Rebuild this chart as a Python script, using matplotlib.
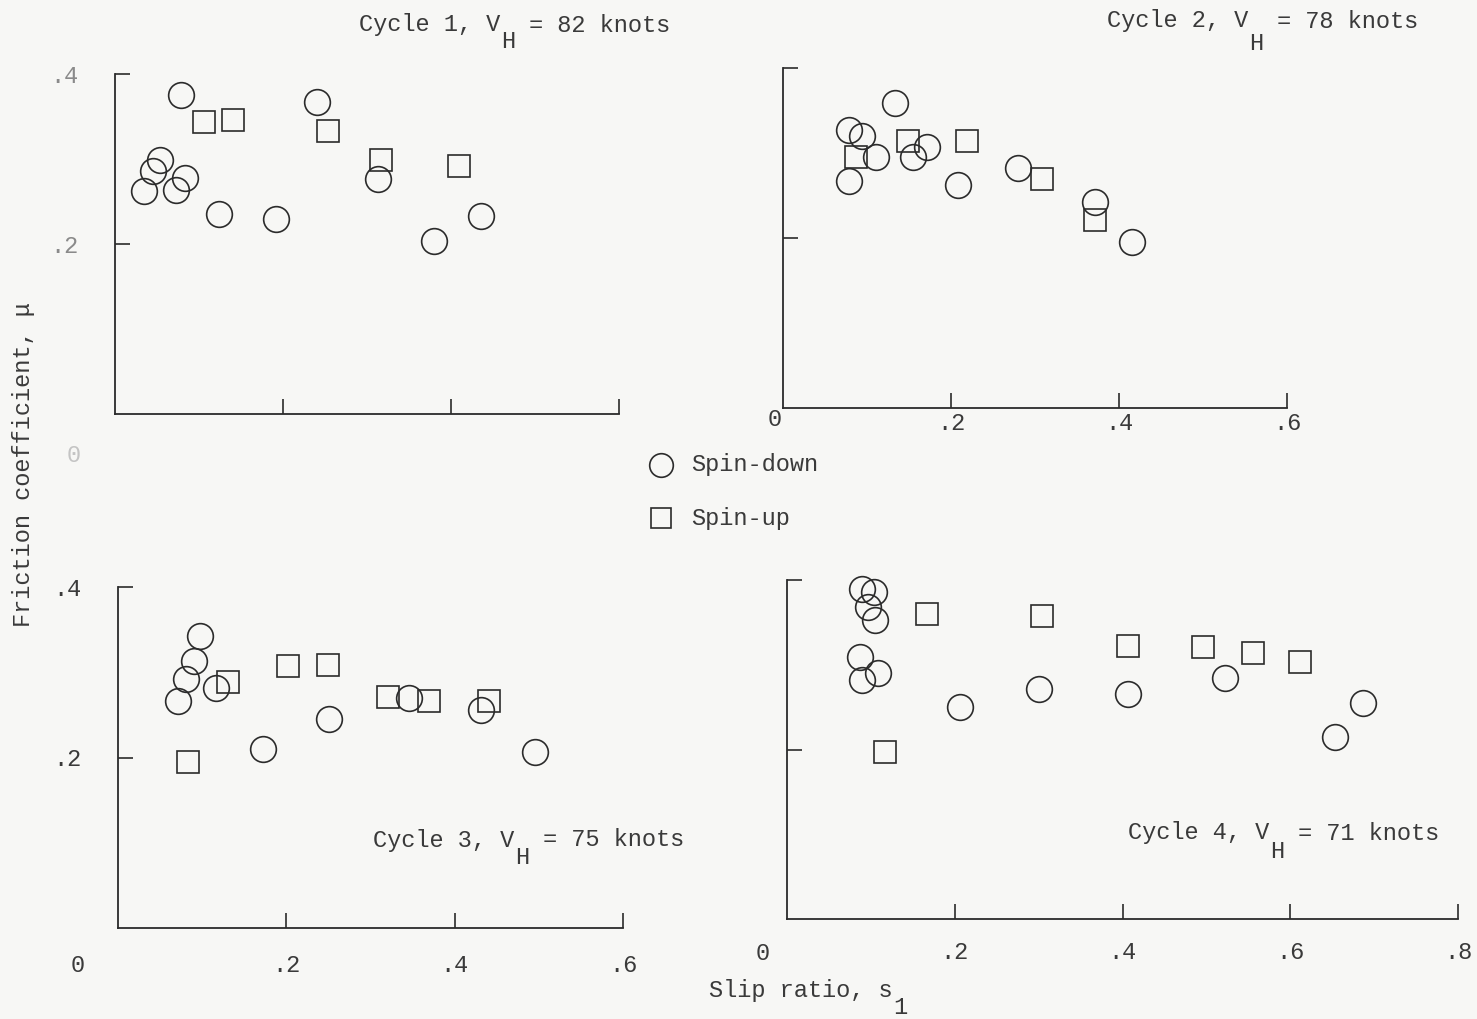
import matplotlib
matplotlib.use("Agg")
import matplotlib.pyplot as plt

FONT = "Liberation Mono"
INK = "#2b2b2b"
TXT = "#3a3a3a"
BG = "#f7f7f5"
FS = 17
CHAR = 0.6 * FS * 100 / 72  # advance width of one monospaced character, px

# Cycle 1, V_H = 82 knots
c1_down_s = [0.078, 0.054, 0.045, 0.034, 0.083, 0.073, 0.124, 0.192, 0.240, 0.313, 0.380, 0.436]
c1_down_mu = [0.375, 0.299, 0.286, 0.262, 0.278, 0.264, 0.235, 0.229, 0.367, 0.277, 0.203, 0.233]
c1_up_s = [0.106, 0.140, 0.254, 0.317, 0.409]
c1_up_mu = [0.343, 0.346, 0.333, 0.299, 0.292]

# Cycle 2, V_H = 78 knots
c2_down_s = [0.133, 0.079, 0.094, 0.111, 0.079, 0.155, 0.171, 0.208, 0.280, 0.371, 0.415]
c2_down_mu = [0.359, 0.327, 0.320, 0.295, 0.267, 0.295, 0.307, 0.262, 0.282, 0.242, 0.195]
c2_up_s = [0.087, 0.149, 0.219, 0.308, 0.371]
c2_up_mu = [0.295, 0.314, 0.314, 0.269, 0.221]

# Cycle 3, V_H = 75 knots
c3_down_s = [0.097, 0.090, 0.081, 0.071, 0.117, 0.172, 0.251, 0.346, 0.431, 0.496]
c3_down_mu = [0.343, 0.313, 0.292, 0.266, 0.282, 0.210, 0.245, 0.270, 0.256, 0.206]
c3_up_s = [0.083, 0.131, 0.202, 0.249, 0.321, 0.369, 0.441]
c3_up_mu = [0.195, 0.289, 0.307, 0.309, 0.271, 0.266, 0.266]

# Cycle 4, V_H = 71 knots
c4_down_s = [0.089, 0.104, 0.097, 0.105, 0.087, 0.090, 0.109, 0.206, 0.300, 0.406, 0.522, 0.653, 0.687]
c4_down_mu = [0.389, 0.386, 0.368, 0.353, 0.309, 0.282, 0.290, 0.250, 0.271, 0.265, 0.284, 0.215, 0.255]
c4_up_s = [0.117, 0.167, 0.304, 0.407, 0.496, 0.556, 0.612]
c4_up_mu = [0.197, 0.360, 0.358, 0.322, 0.321, 0.314, 0.303]

cycle_names = ["Cycle 1, V", "Cycle 2, V", "Cycle 3, V", "Cycle 4, V"]
cycle_speeds = ["= 82 knots", "= 78 knots", "= 75 knots", "= 71 knots"]
x_tick_vals = [[0.2, 0.4, 0.6], [0.2, 0.4, 0.6], [0.2, 0.4, 0.6], [0.2, 0.4, 0.6, 0.8]]
x_tick_text = [[".2", ".4", ".6"], [".2", ".4", ".6"], [".2", ".4", ".6"], [".2", ".4", ".6", ".8"]]
y_tick_vals = [0.2, 0.4]
y_tick_text = [".2", ".4"]

W, H = 1477, 1019
fig = plt.figure(figsize=(W / 100, H / 100), dpi=100, facecolor=BG)


def px_axes(x0, x1, y0, y1):
    # axes rectangle from pixel edges (origin top-left)
    return fig.add_axes([x0 / W, 1 - y0 / H, (x1 - x0) / W, (y0 - y1) / H])


def ftext(x, y, s, **kw):
    kw.setdefault("fontsize", FS)
    kw.setdefault("color", TXT)
    kw.setdefault("family", FONT)
    kw.setdefault("va", "center")
    fig.text(x / W, 1 - y / H, s, **kw)


panels = [
    dict(rect=(115, 619, 414, 74), xmax=0.6, data=(c1_down_s, c1_down_mu, c1_up_s, c1_up_mu),
         xlabels=False, ylabels=True, ycol="#8a8a8a"),
    dict(rect=(783, 1287, 408, 68), xmax=0.6, data=(c2_down_s, c2_down_mu, c2_up_s, c2_up_mu),
         xlabels=True, ylabels=False, xpad=3),
    dict(rect=(118, 623, 928, 587), xmax=0.6, data=(c3_down_s, c3_down_mu, c3_up_s, c3_up_mu),
         xlabels=True, ylabels=True, xpad=19, ycol=TXT),
    dict(rect=(787, 1458, 919, 580), xmax=0.8, data=(c4_down_s, c4_down_mu, c4_up_s, c4_up_mu),
         xlabels=True, ylabels=False, xpad=16),
]

for i, p in enumerate(panels):
    ax = px_axes(*p["rect"])
    ax.set_facecolor("none")
    ax.set_xlim(0, p["xmax"])
    ax.set_ylim(0, 0.4)
    for side in ("top", "right"):
        ax.spines[side].set_visible(False)
    for side in ("left", "bottom"):
        ax.spines[side].set_color(INK)
        ax.spines[side].set_linewidth(1.3)

    ds, dm, us, um = p["data"]
    ax.plot(ds, dm, "o", ms=18.5, mfc="none", mec=INK, mew=1.2, clip_on=False)
    ax.plot(us, um, "s", ms=16, mfc="none", mec=INK, mew=1.2, clip_on=False)

    ax.set_xticks(x_tick_vals[i])
    ax.set_yticks(y_tick_vals)
    ax.tick_params(direction="in", length=11, width=1.2, color=INK)
    if p["xlabels"]:
        ax.set_xticklabels(x_tick_text[i], family=FONT, fontsize=FS, color=TXT)
        ax.tick_params(axis="x", pad=p["xpad"])
    else:
        ax.set_xticklabels([])
    if p["ylabels"]:
        ax.set_yticklabels(y_tick_text, family=FONT, fontsize=FS, color=p["ycol"])
        ax.tick_params(axis="y", pad=26)
    else:
        ax.set_yticklabels([])

# origin labels
ftext(74, 455, "0", ha="center", color="#c4c4c4")
ftext(775, 420, "0", ha="center")
ftext(78, 965, "0", ha="center")
ftext(763, 953, "0", ha="center")

# panel titles, with the subscript H typed one line lower
title_pos = [(359, 25, 42), (1107, 21, 43), (373, 840, 857), (1128, 833, 852)]
for name, speed, (x, y, ysub) in zip(cycle_names, cycle_speeds, title_pos):
    ftext(x, y, name, ha="left")
    ftext(x + 10 * CHAR, ysub, "H", ha="left")
    ftext(x + 12 * CHAR, y, speed, ha="left")

# legend
leg_ax = fig.add_axes([0, 0, 1, 1], facecolor="none")
leg_ax.set_xlim(0, W)
leg_ax.set_ylim(H, 0)
leg_ax.axis("off")
leg_ax.plot([661], [465], "o", ms=17, mfc="none", mec=INK, mew=1.2)
leg_ax.plot([661], [518], "s", ms=14.5, mfc="none", mec=INK, mew=1.2)
ftext(691, 465, "Spin-down", ha="left")
ftext(691, 519, "Spin-up", ha="left")

# axis titles
ftext(24, 465, "Friction coefficient, \u03bc", ha="center", rotation=90)
ftext(709, 990, "Slip ratio, s", ha="left")
ftext(709 + 13 * CHAR, 1008, "1", ha="left")

fig.savefig("out.png", dpi=100, facecolor=BG)
